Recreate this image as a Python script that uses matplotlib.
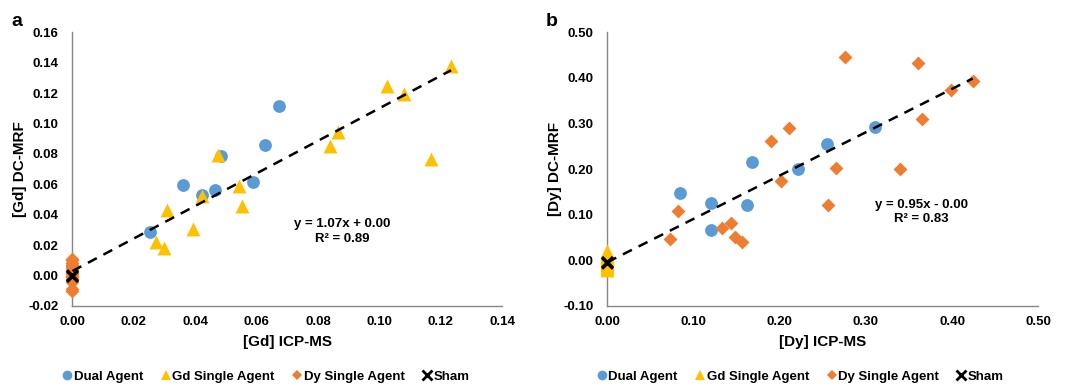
# Gráfico de dispersión: DC-MRF frente a ICP-MS (Gd y Dy)

import numpy as np
import matplotlib.pyplot as plt
from matplotlib.lines import Line2D

plt.rcParams['font.family'] = ['Liberation Sans', 'DejaVu Sans']
plt.rcParams['font.weight'] = 'bold'

# Datos panel a: [Gd]
gd_dual_icp = [0.0254, 0.0361, 0.0423, 0.0466, 0.0483, 0.0587, 0.0629, 0.0672]
gd_dual_mrf = [0.0285, 0.0596, 0.0528, 0.0566, 0.0789, 0.0618, 0.0860, 0.1118]
gd_gdsingle_icp = [0.0272, 0.0298, 0.0307, 0.0392, 0.0423, 0.0474, 0.0544,
                   0.0551, 0.0839, 0.0864, 0.1026, 0.1081, 0.1167, 0.1234]
gd_gdsingle_mrf = [0.0219, 0.0180, 0.0434, 0.0307, 0.0526, 0.0794, 0.0588,
                   0.0456, 0.0851, 0.0947, 0.1246, 0.1193, 0.0768, 0.1377]
gd_dysingle_icp = [0.0] * 17
gd_dysingle_mrf = [0.011, 0.010, 0.008, 0.007, 0.006, 0.005, 0.004, 0.003, 0.002,
                   0.001, 0.000, -0.001, -0.002, -0.003, -0.004, -0.009, -0.010]
gd_sham_icp = [0.0, 0.0, 0.0]
gd_sham_mrf = [0.0, -0.0005, 0.0005]
gd_fit = (1.07, 0.003)
gd_eq = 'y = 1.07x + 0.00\nR² = 0.89'

# Datos panel b: [Dy]
dy_dual_icp = [0.0847, 0.1203, 0.1203, 0.1624, 0.1678, 0.2216, 0.2552, 0.3105]
dy_dual_mrf = [0.1477, 0.1250, 0.0665, 0.1221, 0.2164, 0.2010, 0.2551, 0.2924]
dy_gdsingle_icp = [0.0] * 14
dy_gdsingle_mrf = [0.020, 0.015, 0.010, 0.008, 0.005, 0.003, 0.000,
                   -0.002, -0.005, -0.008, -0.010, -0.014, -0.017, -0.020]
dy_dysingle_icp = [0.0727, 0.0820, 0.1330, 0.1439, 0.1485, 0.1562, 0.1895, 0.2019,
                   0.2111, 0.2556, 0.2653, 0.2753, 0.3395, 0.3600, 0.3647, 0.3983, 0.4238]
dy_dysingle_mrf = [0.0461, 0.1089, 0.0716, 0.0811, 0.0512, 0.0409, 0.2624, 0.1747,
                   0.2895, 0.1221, 0.2018, 0.4459, 0.2010, 0.4327, 0.3099, 0.3728, 0.3925]
dy_sham_icp = [0.0, 0.0, 0.0]
dy_sham_mrf = [-0.004, -0.003, -0.005]
dy_fit = (0.95, -0.004)
dy_eq = 'y = 0.95x - 0.00\nR² = 0.83'

series_names = ['Dual Agent', 'Gd Single Agent', 'Dy Single Agent', 'Sham']

BLUE = '#5B9BD5'
GOLD = '#FFC000'
ORANGE = '#ED7D31'
AXCOL = '#868686'


def drawPanel(ax, dual, gds, dys, sham, fit, eq, eq_pos, xlim, ylim, xstep, ystep,
              xlabel, ylabel):
    ax.scatter(dual[0], dual[1], s=85, marker='o', color=BLUE, linewidths=0,
               zorder=3, clip_on=False)
    ax.scatter(gds[0], gds[1], s=100, marker='^', color=GOLD, linewidths=0,
               zorder=4, clip_on=False)
    ax.scatter(dys[0], dys[1], s=50, marker='D', color=ORANGE, linewidths=0,
               zorder=5, clip_on=False)
    ax.scatter(sham[0], sham[1], s=60, marker='x', color='black', linewidths=2.0,
               zorder=6, clip_on=False)

    # línea de tendencia (todos los puntos)
    allx = np.concatenate([dual[0], gds[0], dys[0], sham[0]])
    xs = np.array([0.0, allx.max()])
    ax.plot(xs, fit[0] * xs + fit[1], color='black', lw=1.8, ls=(0, (4, 3)), zorder=7)

    ax.text(eq_pos[0], eq_pos[1], eq, ha='center', va='center', fontsize=9.5,
            fontweight='bold', linespacing=1.3)

    ax.set_xlim(xlim)
    ax.set_ylim(ylim)
    ax.set_xticks(np.arange(xlim[0], xlim[1] + xstep / 2, xstep))
    ax.set_yticks(np.arange(ylim[0], ylim[1] + ystep / 2, ystep))
    ax.xaxis.set_major_formatter(plt.FormatStrFormatter('%.2f'))
    ax.yaxis.set_major_formatter(plt.FormatStrFormatter('%.2f'))
    ax.tick_params(length=0, labelsize=9.5)
    ax.tick_params(axis='x', pad=7)
    ax.tick_params(axis='y', pad=10)
    for lab in ax.get_xticklabels() + ax.get_yticklabels():
        lab.set_fontweight('bold')
    for s in ['top', 'right']:
        ax.spines[s].set_visible(False)
    for s in ['left', 'bottom']:
        ax.spines[s].set_color(AXCOL)
        ax.spines[s].set_linewidth(1.0)
    ax.set_xlabel(xlabel, fontsize=11, fontweight='bold', labelpad=5)
    ax.set_ylabel(ylabel, fontsize=11, fontweight='bold', labelpad=1)


def legendHandles():
    return [
        Line2D([], [], ls='none', marker='o', ms=7, color=BLUE, mew=0),
        Line2D([], [], ls='none', marker='^', ms=7.5, color=GOLD, mew=0),
        Line2D([], [], ls='none', marker='D', ms=5.5, color=ORANGE, mew=0),
        Line2D([], [], ls='none', marker='x', ms=6.5, color='black', mew=2.0),
    ]


def main():
    fig = plt.figure(figsize=(10.69, 3.85), dpi=100)
    ax_a = fig.add_axes([0.0678, 0.2052, 0.4018, 0.7109])
    ax_b = fig.add_axes([0.5681, 0.2052, 0.4032, 0.7109])

    drawPanel(ax_a, (gd_dual_icp, gd_dual_mrf), (gd_gdsingle_icp, gd_gdsingle_mrf),
              (gd_dysingle_icp, gd_dysingle_mrf), (gd_sham_icp, gd_sham_mrf),
              gd_fit, gd_eq, (0.088, 0.029), (0.0, 0.14), (-0.02, 0.16), 0.02, 0.02,
              '[Gd] ICP-MS', '[Gd] DC-MRF')
    drawPanel(ax_b, (dy_dual_icp, dy_dual_mrf), (dy_gdsingle_icp, dy_gdsingle_mrf),
              (dy_dysingle_icp, dy_dysingle_mrf), (dy_sham_icp, dy_sham_mrf),
              dy_fit, dy_eq, (0.364, 0.106), (0.0, 0.50), (-0.10, 0.50), 0.10, 0.10,
              '[Dy] ICP-MS', '[Dy] DC-MRF')

    fig.text(0.016, 0.945, 'a', fontsize=14, fontweight='bold', ha='center', va='center')
    fig.text(0.516, 0.945, 'b', fontsize=14, fontweight='bold', ha='center', va='center')

    for cx in [0.248, 0.748]:
        fig.legend(legendHandles(), series_names, loc='center', ncol=4,
                   bbox_to_anchor=(cx, 0.022), frameon=False, handletextpad=0.0,
                   columnspacing=1.2, handlelength=1.0,
                   prop={'size': 9.5, 'weight': 'bold'})

    fig.savefig('out.png', dpi=100)


if __name__ == "__main__":
    main()
